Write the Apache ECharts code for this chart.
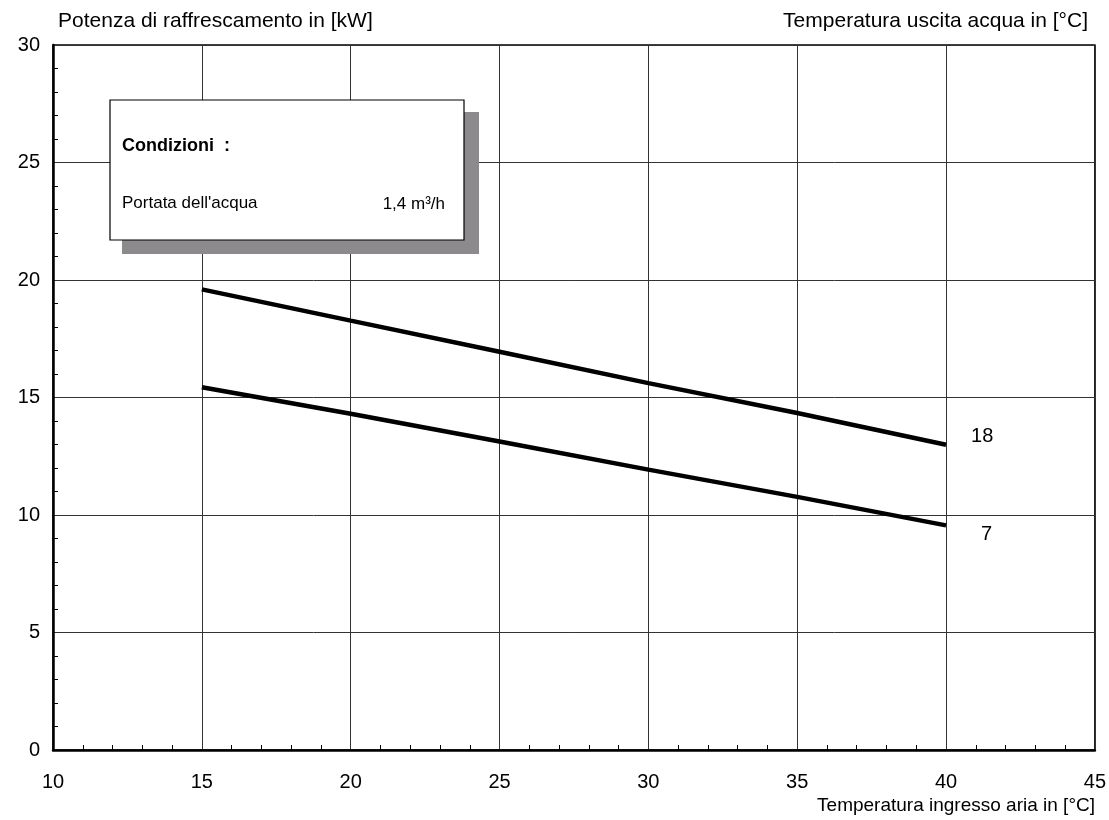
<!DOCTYPE html>
<html>
<head>
<meta charset="utf-8">
<script src="https://cdn.jsdelivr.net/npm/echarts@6/dist/echarts.min.js"></script>
<style>
html,body{margin:0;padding:0;background:#fff;}
#chart{width:1109px;height:820px;}
</style>
</head>
<body>
<div id="chart"></div>
<script>
// Data
var xValues = [15, 20, 25, 30, 35, 40];
var seriesNames = ['18', '7'];
var values18 = [19.6, 18.27, 16.95, 15.61, 14.34, 12.99];
var values7 = [15.44, 14.31, 13.13, 11.93, 10.77, 9.56];
var xTicks = [10, 15, 20, 25, 30, 35, 40, 45];
var yTicks = [0, 5, 10, 15, 20, 25, 30];

var FONT = '"Liberation Sans", Arial, sans-serif';

function pairs(xs, ys) { return xs.map(function (x, i) { return [x, ys[i]]; }); }

var chart = echarts.init(document.getElementById('chart'), null, {renderer: 'canvas'});
var option = {
  backgroundColor: '#fff',
  animation: false,
  grid: {left: 53, right: 14, top: 45, bottom: 70, show: true, borderColor: '#000', borderWidth: 1.5, backgroundColor: 'transparent'},
  xAxis: {
    type: 'value', min: xTicks[0], max: xTicks[xTicks.length - 1], interval: 5,
    axisLine: {lineStyle: {color: '#000', width: 2.5}},
    axisTick: {show: false, inside: true},
    minorTick: {show: true, splitNumber: 5, length: 5, lineStyle: {color: '#000', width: 1}},
    splitLine: {show: true, lineStyle: {color: '#333', width: 1}},
    axisLabel: {color: '#000', fontSize: 20, fontFamily: FONT, margin: 22}
  },
  yAxis: {
    type: 'value', min: yTicks[0], max: yTicks[yTicks.length - 1], interval: 5,
    axisLine: {show: true, lineStyle: {color: '#000', width: 2.5}},
    axisTick: {show: false, inside: true},
    minorTick: {show: true, splitNumber: 5, length: 5, lineStyle: {color: '#000', width: 1}},
    splitLine: {show: true, lineStyle: {color: '#333', width: 1}},
    axisLabel: {color: '#000', fontSize: 20, fontFamily: FONT, margin: 13}
  },
  series: [
    {
      name: seriesNames[0], type: 'line', data: pairs(xValues, values18),
      symbol: 'none', lineStyle: {color: '#000', width: 4.5},
      endLabel: {show: true, formatter: '{a}', color: '#000', fontSize: 20, fontFamily: FONT, distance: 5, offset: [20, -8]}
    },
    {
      name: seriesNames[1], type: 'line', data: pairs(xValues, values7),
      symbol: 'none', lineStyle: {color: '#000', width: 4.5},
      endLabel: {show: true, formatter: '{a}', color: '#000', fontSize: 20, fontFamily: FONT, distance: 5, offset: [30, 9]}
    }
  ],
  graphic: [
    {type: 'text', x: 58, y: 21, style: {text: 'Potenza di raffrescamento in [kW]', fill: '#000', font: '21px ' + FONT, textVerticalAlign: 'middle'}},
    {type: 'text', x: 1088, y: 21, style: {text: 'Temperatura uscita acqua in [°C]', fill: '#000', font: '21px ' + FONT, textAlign: 'right', textVerticalAlign: 'middle'}},
    {type: 'text', x: 1095, y: 806, style: {text: 'Temperatura ingresso aria in [°C]', fill: '#000', font: '19px ' + FONT, textAlign: 'right', textVerticalAlign: 'middle'}},
    {type: 'rect', shape: {x: 122, y: 112, width: 357, height: 142}, style: {fill: '#8c8a8c'}, z: 100},
    {type: 'rect', shape: {x: 110, y: 100, width: 354, height: 140}, style: {fill: '#fff', stroke: '#000', lineWidth: 1.2}, z: 101},
    {type: 'text', x: 122, y: 146, style: {text: 'Condizioni  :', fill: '#000', font: 'bold 18px ' + FONT, textVerticalAlign: 'middle'}, z: 102},
    {type: 'text', x: 122, y: 203, style: {text: "Portata dell'acqua", fill: '#000', font: '17px ' + FONT, textVerticalAlign: 'middle'}, z: 102},
    {type: 'text', x: 445, y: 204, style: {text: '1,4 m³/h', fill: '#000', font: '17px ' + FONT, textAlign: 'right', textVerticalAlign: 'middle'}, z: 102}
  ]
};
chart.setOption(option);
</script>
</body>
</html>
